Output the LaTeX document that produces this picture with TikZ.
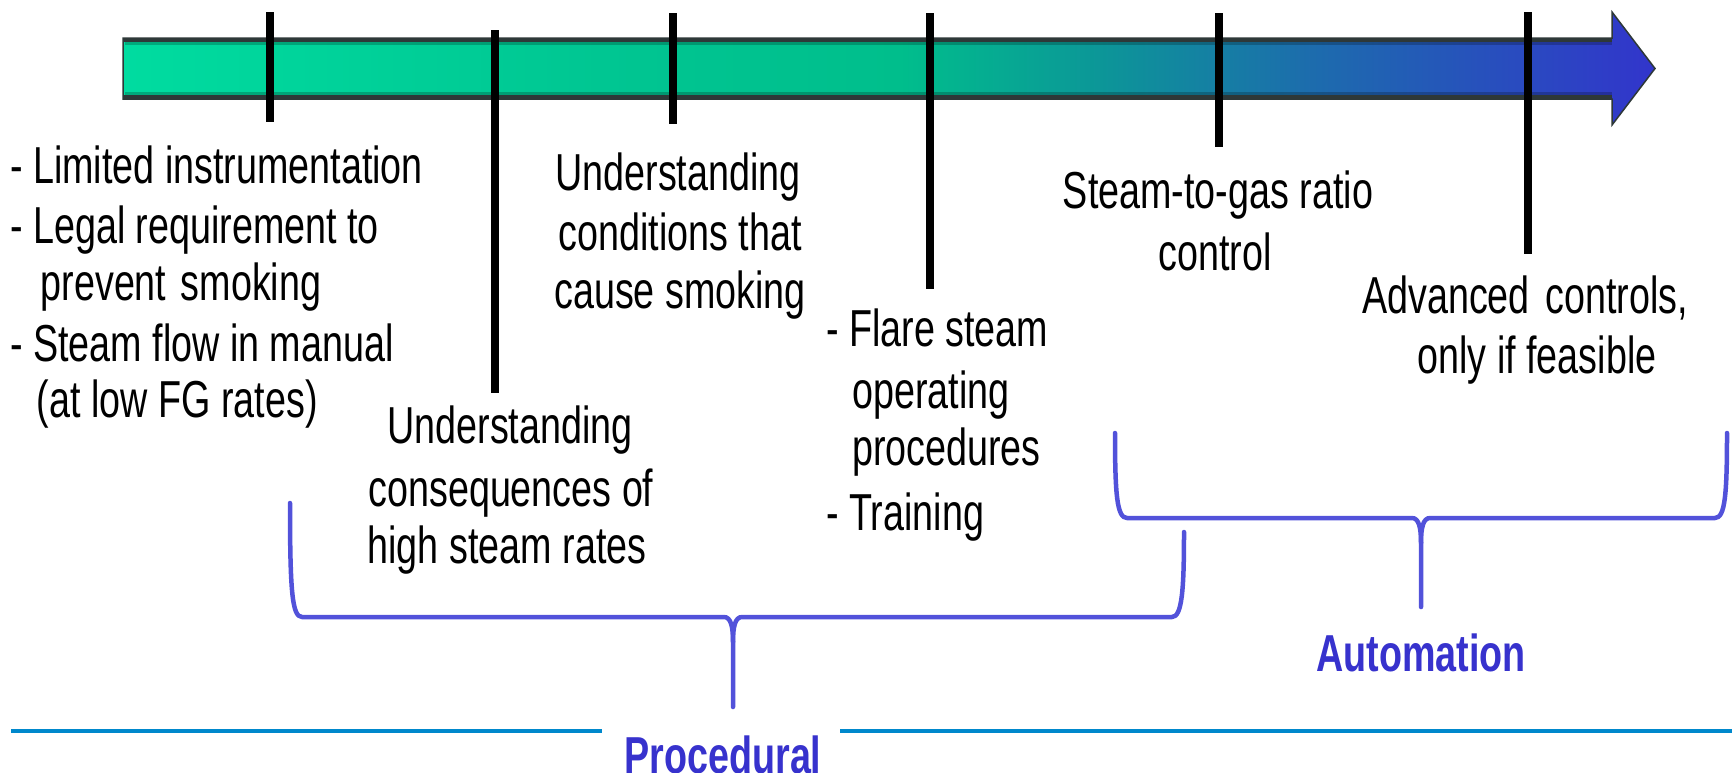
\documentclass[tikz,border=0pt]{standalone}
\usepackage{fontspec}
\setmainfont{Liberation Sans}[FakeStretch=0.725]
\definecolor{c0}{RGB}{0,220,160}
\definecolor{c1}{RGB}{0,198,146}
\definecolor{c2}{RGB}{0,190,140}
\definecolor{c3}{RGB}{12,150,152}
\definecolor{c4}{RGB}{28,110,172}
\definecolor{c5}{RGB}{50,52,204}
\definecolor{bordc}{RGB}{46,56,56}
\definecolor{bracec}{RGB}{82,82,218}
\definecolor{grpc}{RGB}{55,50,205}
\definecolor{lineblue}{RGB}{0,136,204}
\begin{document}
\begin{tikzpicture}[x=1pt,y=-1pt,
  tickline/.style={line width=8pt, black},
  lbl/.style={inner sep=0pt, font=\fontsize{52}{58}\selectfont},
  grp/.style={inner sep=0pt, font=\fontsize{52}{58}\selectfont\bfseries, text=grpc},
  bracepath/.style={draw=bracec, line width=4.5pt, line join=round, line cap=round},
  sepline/.style={draw=lineblue, line width=4pt}]
\useasboundingbox (0,0) rectangle (1732,772);
\clip (0,0) rectangle (1732,772);

% timeline arrow
\begin{scope}
  \clip (123,38) -- (1612,38) -- (1612,12) -- (1655,68.5) -- (1612,125) -- (1612,99) -- (123,99) -- cycle;
  \shade[left color=c0, right color=c1] (118,0) rectangle (602,130);
  \shade[left color=c1, right color=c2] (600,0) rectangle (902,130);
  \shade[left color=c2, right color=c3] (900,0) rectangle (1102,130);
  \shade[left color=c3, right color=c4] (1100,0) rectangle (1302,130);
  \shade[left color=c4, right color=c5] (1300,0) rectangle (1660,130);
\end{scope}
\draw[bordc, line width=1.5pt, line join=miter] (123,38) -- (1612,38) -- (1612,12) -- (1655,68.5) -- (1612,125) -- (1612,99) -- (123,99) -- cycle;
\draw[bordc, line width=4pt] (123,40) -- (1612,40) (123,97) -- (1612,97);
\draw[black, opacity=0.22, line width=3pt] (125,43.5) -- (1612,43.5) (125,93.5) -- (1612,93.5);

% ticks
\draw[tickline] (270,12) -- (270,122);
\draw[tickline] (495,30) -- (495,393);
\draw[tickline] (673,13) -- (673,124);
\draw[tickline] (930,13) -- (930,289);
\draw[tickline] (1219,13) -- (1219,147);
\draw[tickline] (1528,12) -- (1528,254);

% block 1
\node[lbl, anchor=base west] (a1) at (10,183) {- Limited instrumentation};
\node[lbl, anchor=base west] (a2) at (10,243) {- Legal requirement to};
\node[lbl, anchor=base west] (a3) at (40.5,300) {prevent\hspace{4pt} smoking};
\node[lbl, anchor=base west] (a4) at (10,361) {- Steam flow in manual};
\node[lbl, anchor=base west] (a5) at (36.7,417) {(at low FG rates)};

% block 2
\node[lbl, anchor=base] (b1) at (510,443) {Understanding};
\node[lbl, anchor=base] (b2) at (511,506) {consequences of};
\node[lbl, anchor=base] (b3) at (507,563) {high steam rates};

% block 3
\node[lbl, anchor=base] (c1n) at (678,190) {Understanding};
\node[lbl, anchor=base] (c2n) at (680,250) {conditions that};
\node[lbl, anchor=base] (c3n) at (680,308) {cause smoking};

% block 4
\node[lbl, anchor=base west] (d1) at (826,346) {- Flare steam};
\node[lbl, anchor=base west] (d2) at (852,408) {operating};
\node[lbl, anchor=base west] (d3) at (852,465) {procedures};
\node[lbl, anchor=base west] (d4) at (826,530) {- Training};

% block 5
\node[lbl, anchor=base] (e1) at (1218,208) {Steam-to-gas ratio};
\node[lbl, anchor=base] (e2) at (1215,270) {control};

% block 6
\node[lbl, anchor=base] (f1) at (1525,313) {Advanced\hspace{5pt} controls,};
\node[lbl, anchor=base] (f2) at (1537,373) {only if feasible};

% braces
\coordinate (pl) at (290,503);
\coordinate (pr) at (1184,532);
\coordinate (ptip) at (733,707);
\path[bracepath] (pl) .. controls (290,590) and (292,617) .. (302,617) -- (724,617)
  .. controls (731,617) and (733,627) .. (733,642) -- (ptip);
\path[bracepath] (pr) .. controls (1184,590) and (1182,617) .. (1172,617) -- (742,617)
  .. controls (735,617) and (733,627) .. (733,642);

\coordinate (al) at (1115,433);
\coordinate (ar) at (1727,433);
\coordinate (atip) at (1421,607);
\path[bracepath] (al) .. controls (1115,495) and (1117,518) .. (1127,518) -- (1412,518)
  .. controls (1419,518) and (1421,528) .. (1421,543) -- (atip);
\path[bracepath] (ar) .. controls (1727,495) and (1725,518) .. (1715,518) -- (1430,518)
  .. controls (1423,518) and (1421,528) .. (1421,543);

% group labels
\node[grp, anchor=base] (g1) at (1421,671) {Automation};
\node[grp, anchor=base] (g2) at (723,773) {Procedural};

% separator line
\coordinate (s1) at (11,731);
\coordinate (s2) at (602,731);
\coordinate (s3) at (840,731);
\coordinate (s4) at (1732,731);
\draw[sepline] (s1) -- (s2) (s3) -- (s4);
\end{tikzpicture}
\end{document}
